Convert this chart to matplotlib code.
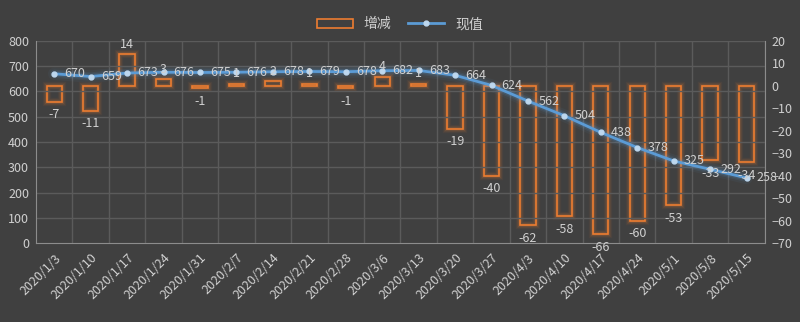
import numpy as np
import matplotlib.pyplot as plt

plt.rcParams['font.family'] = ['Noto Sans CJK SC', 'DejaVu Sans']

dates = ['2020/1/3', '2020/1/10', '2020/1/17', '2020/1/24', '2020/1/31', '2020/2/7',
         '2020/2/14', '2020/2/21', '2020/2/28', '2020/3/6', '2020/3/13', '2020/3/20',
         '2020/3/27', '2020/4/3', '2020/4/10', '2020/4/17', '2020/4/24', '2020/5/1',
         '2020/5/8', '2020/5/15']
change = [-7, -11, 14, 3, -1, 1, 2, 1, -1, 4, 1, -19, -40, -62, -58, -66, -60, -53, -33, -34]
value = [670, 659, 673, 676, 675, 676, 678, 679, 678, 682, 683, 664, 624, 562, 504, 438,
         378, 325, 292, 258]

bg = '#404040'
grid_c = '#5b5b5b'
txt = '#d0d0d0'
orange = '#ed7d31'
blue = '#5b9bd5'

fig = plt.figure(figsize=(8, 3.22), dpi=100, facecolor=bg)
ax = fig.add_axes([0.045, 0.245, 0.911, 0.628])
ax.set_facecolor(bg)
ax2 = ax.twinx()

x = np.arange(len(dates))

# grid on the left axis, vertical lines between categories
ax.set_ylim(0, 800)
ax.set_yticks(range(0, 801, 100))
ax.set_xlim(-0.5, len(dates) - 0.5)
for yy in range(100, 801, 100):
    ax.axhline(yy, color=grid_c, lw=1, zorder=0)
for xx in np.arange(0.5, len(dates), 1):
    ax.axvline(xx, color=grid_c, lw=1, zorder=0)

# bars on the right axis with a soft glow
ax2.set_ylim(-70, 20)
ax2.set_yticks(range(-70, 21, 10))
for w, a in [(6, 0.06), (4.5, 0.09), (3, 0.14)]:
    ax2.bar(x, change, width=0.42, facecolor='none', edgecolor=orange, lw=w, alpha=a, zorder=2)
bars = ax2.bar(x, change, width=0.42, facecolor='none', edgecolor=orange, lw=1.2, zorder=3)

# line on the left axis, glow beneath it
ax.set_zorder(ax2.get_zorder() + 1)
ax.patch.set_visible(False)
for w, a in [(9, 0.06), (6, 0.1), (4, 0.16)]:
    ax.plot(x, value, color=blue, lw=w, alpha=a, solid_capstyle='round', zorder=4)
ln, = ax.plot(x, value, color=blue, lw=2, marker='o', ms=3.5, mfc='#bdd7ee', mec='#bdd7ee',
              zorder=5)
for xi, v in zip(x, value):
    ax.text(xi + 0.28, v, str(v), ha='left', va='center', color=txt, fontsize=9, zorder=6)

# bar labels drawn above the line
for xi, v in zip(x, change):
    if v < 0:
        ax.text(xi, v - 3, str(v), ha='center', va='top', color=txt, fontsize=9, zorder=7,
                transform=ax2.transData)
    else:
        ax.text(xi, v + 1.5, str(v), ha='center', va='bottom', color=txt, fontsize=9, zorder=7,
                transform=ax2.transData)

for a_ in (ax, ax2):
    for s in a_.spines.values():
        s.set_visible(False)
    a_.tick_params(length=0, colors=txt, labelsize=9)
ax.spines['left'].set_visible(True)
ax.spines['left'].set_color('#8c8c8c')
ax.spines['bottom'].set_visible(True)
ax.spines['bottom'].set_color('#8c8c8c')
ax2.spines['right'].set_visible(True)
ax2.spines['right'].set_color('#8c8c8c')

ax.set_xticks(x)
ax.set_xticklabels(dates, rotation=45, ha='right', rotation_mode='anchor', fontsize=9,
                   color=txt)
ax.tick_params(axis='x', pad=6)
ax2.tick_params(axis='y', pad=5)
ax.tick_params(axis='y', pad=5)

fig.legend([bars, ln], ['增减', '现值'], loc='upper center', bbox_to_anchor=(0.5, 0.985),
           ncol=2, frameon=False, fontsize=10, labelcolor=txt, handlelength=2.6,
           columnspacing=1.2)

fig.savefig('out.png', dpi=100, facecolor=bg)
